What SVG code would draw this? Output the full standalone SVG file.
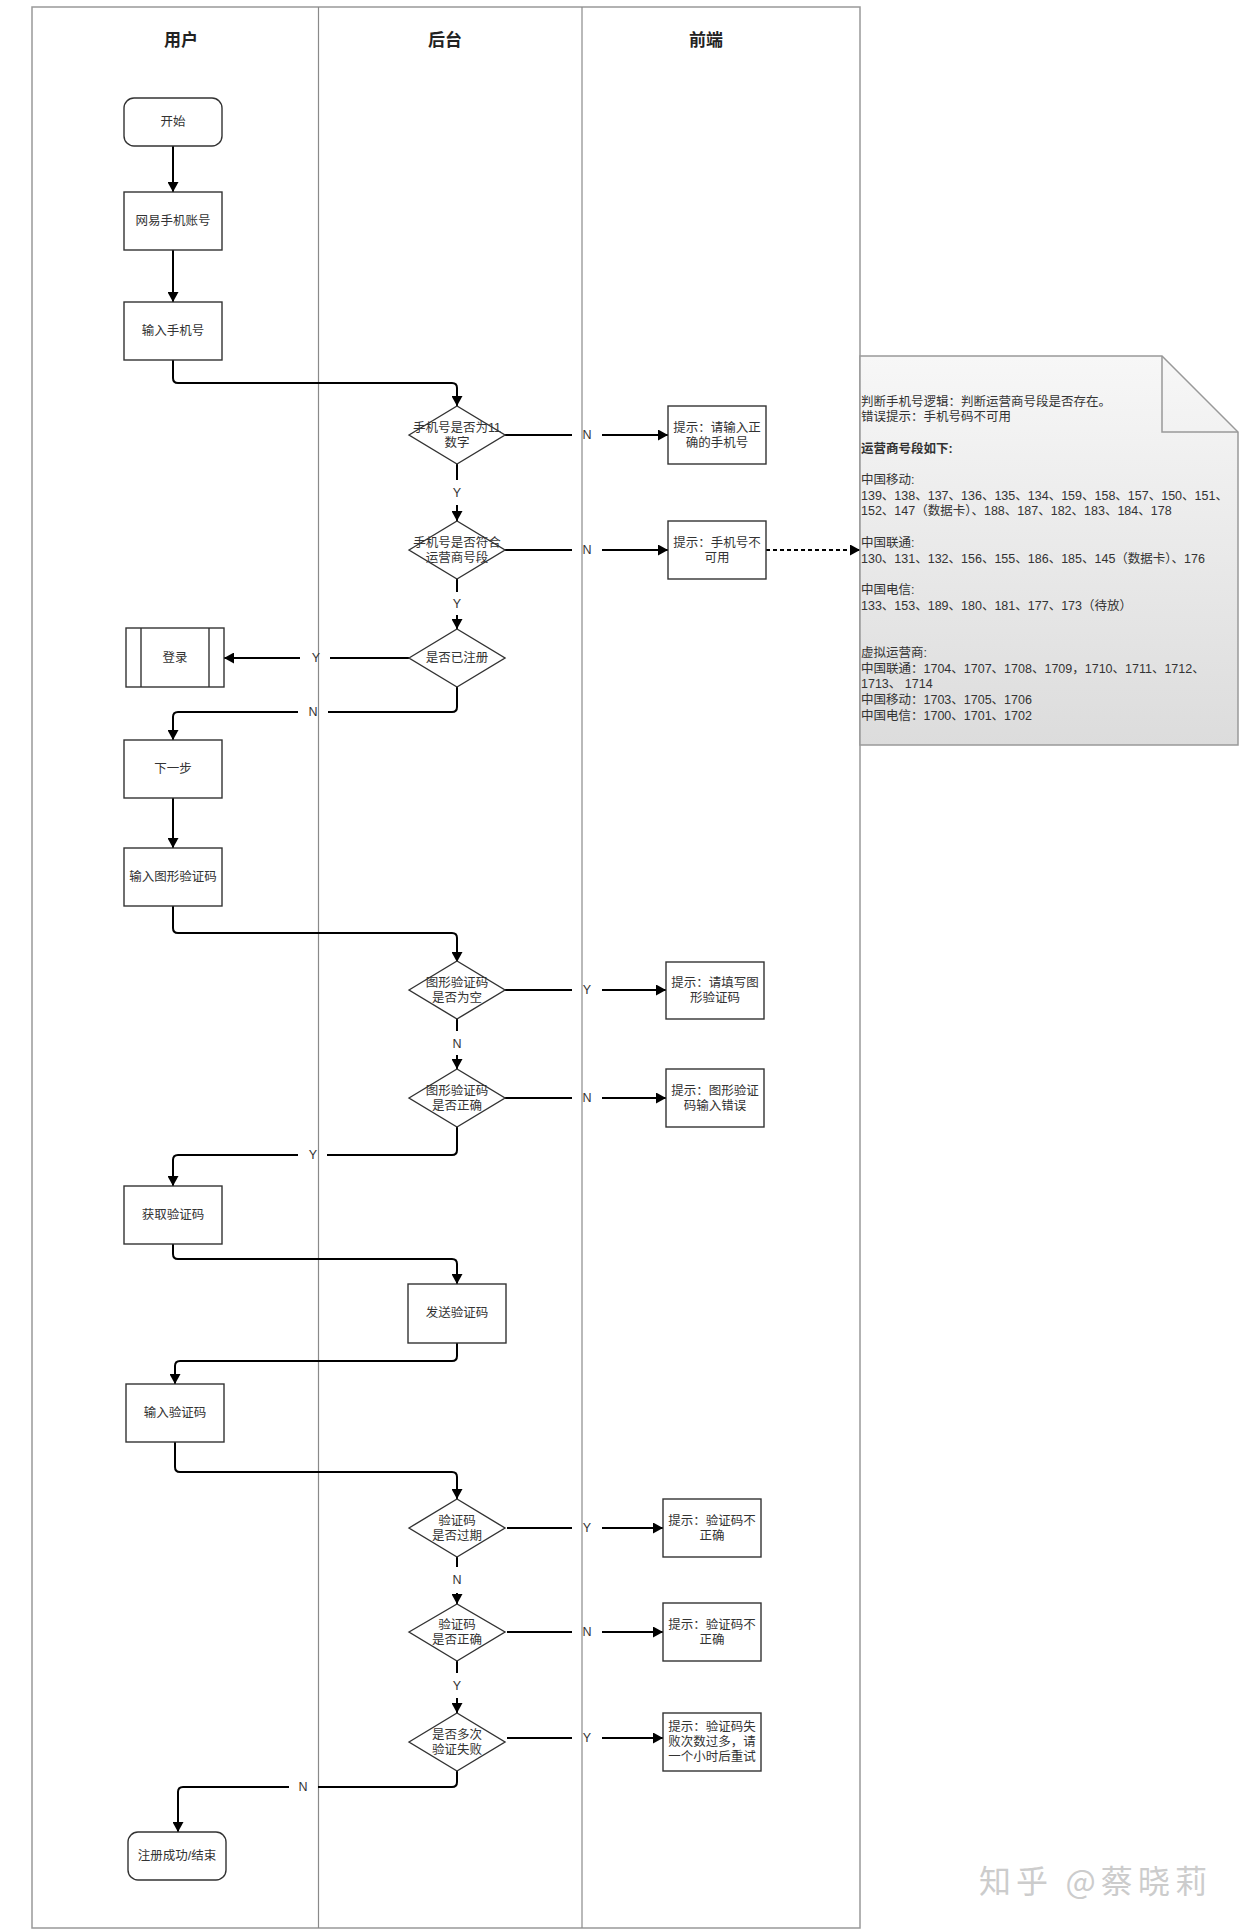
<svg xmlns="http://www.w3.org/2000/svg" width="1240" height="1930" viewBox="0 0 1240 1930">
<defs>
<marker id="arr" markerUnits="userSpaceOnUse" markerWidth="11" markerHeight="11" refX="10" refY="5.5" orient="auto">
<path d="M0,0 L10,5.5 L0,11 z" fill="#000"/>
</marker>
<linearGradient id="noteg" x1="0" y1="0" x2="0" y2="1">
<stop offset="0" stop-color="#f7f7f7"/>
<stop offset="1" stop-color="#dcdcdc"/>
</linearGradient>
<style>
.lane{fill:none;stroke:#999;stroke-width:1.5}
.div{stroke:#8a8a8a;stroke-width:1.2}
.hd{font-family:"Noto Sans CJK SC","Liberation Sans",sans-serif;font-size:17px;font-weight:bold;fill:#222;text-anchor:middle;dominant-baseline:central}
.box{fill:#fff;stroke:#333;stroke-width:1.4}
.t{font-family:"Liberation Sans","Noto Sans CJK SC",sans-serif;font-size:12.5px;fill:#333;text-anchor:middle;dominant-baseline:central}
.c{fill:none;stroke:#000;stroke-width:2}
.ca{fill:none;stroke:#000;stroke-width:2;marker-end:url(#arr)}
.dash{fill:none;stroke:#000;stroke-width:2;stroke-dasharray:4,3;marker-end:url(#arr)}
.lb{font-family:"Liberation Sans",sans-serif;font-size:12.5px;fill:#333;text-anchor:middle;dominant-baseline:central}
.nt{font-family:"Liberation Sans","Noto Sans CJK SC",sans-serif;font-size:12.5px;fill:#333}
</style>
</defs>
<rect x="0" y="0" width="1240" height="1930" fill="#fff"/>
<g id="lanes">
<rect class="lane" x="32" y="7" width="828" height="1921" fill="#fff"/>
<line class="div" x1="318.5" y1="7" x2="318.5" y2="1928"/>
<line class="div" x1="582" y1="7" x2="582" y2="1928"/>
<text class="hd" x="181" y="38">用户</text>
<text class="hd" x="445" y="38">后台</text>
<text class="hd" x="706" y="38">前端</text>
</g>
<g id="connectors">
<path class="ca" d="M173,146 V192"/>
<path class="ca" d="M173,250 V302"/>
<path class="ca" d="M173,360 V378 Q173,383 178,383 H452 Q457,383 457,388 V406"/>
<path class="c" d="M505,435 H572"/><path class="ca" d="M602,435 H668"/><text class="lb" x="587" y="435">N</text>
<path class="c" d="M457,464 V480"/><path class="ca" d="M457,505 V521"/><text class="lb" x="457" y="493">Y</text>
<path class="c" d="M505,550 H572"/><path class="ca" d="M602,550 H668"/><text class="lb" x="587" y="550">N</text>
<path class="dash" d="M766,550 H860"/>
<path class="c" d="M457,579 V592"/><path class="ca" d="M457,615 V629"/><text class="lb" x="457" y="604">Y</text>
<path class="c" d="M409,658 H330"/><path class="ca" d="M300,658 H224"/><text class="lb" x="316" y="658">Y</text>
<path class="c" d="M457,687 V707 Q457,712 452,712 H328"/><path class="ca" d="M298,712 H178 Q173,712 173,717 V740"/><text class="lb" x="313" y="712">N</text>
<path class="ca" d="M173,798 V848"/>
<path class="ca" d="M173,906 V928 Q173,933 178,933 H452 Q457,933 457,938 V962"/>
<path class="c" d="M505,990 H572"/><path class="ca" d="M602,990 H666"/><text class="lb" x="587" y="990">Y</text>
<path class="c" d="M457,1019 V1031"/><path class="ca" d="M457,1055 V1069"/><text class="lb" x="457" y="1044">N</text>
<path class="c" d="M505,1098 H572"/><path class="ca" d="M602,1098 H666"/><text class="lb" x="587" y="1098">N</text>
<path class="c" d="M457,1127 V1150 Q457,1155 452,1155 H327"/><path class="ca" d="M298,1155 H178 Q173,1155 173,1160 V1186"/><text class="lb" x="313" y="1155">Y</text>
<path class="ca" d="M173,1244 V1254 Q173,1259 178,1259 H452 Q457,1259 457,1264 V1284"/>
<path class="ca" d="M457,1343 V1356 Q457,1361 452,1361 H180 Q175,1361 175,1366 V1384"/>
<path class="ca" d="M175,1442 V1467 Q175,1472 180,1472 H452 Q457,1472 457,1477 V1499"/>
<path class="c" d="M507,1528 H572"/><path class="ca" d="M602,1528 H663"/><text class="lb" x="587" y="1528">Y</text>
<path class="c" d="M457,1557 V1567"/><path class="ca" d="M457,1593 V1604"/><text class="lb" x="457" y="1580">N</text>
<path class="c" d="M507,1632 H572"/><path class="ca" d="M602,1632 H663"/><text class="lb" x="587" y="1632">N</text>
<path class="c" d="M457,1661 V1673"/><path class="ca" d="M457,1698 V1713"/><text class="lb" x="457" y="1686">Y</text>
<path class="c" d="M507,1738 H572"/><path class="ca" d="M602,1738 H663"/><text class="lb" x="587" y="1738">Y</text>
<path class="c" d="M457,1771 V1782 Q457,1787 452,1787 H318"/><path class="ca" d="M289,1787 H183 Q178,1787 178,1792 V1832"/><text class="lb" x="303" y="1787">N</text>
</g>
<g id="start"><rect class="box" x="124" y="98" width="98" height="48" rx="10"/><text class="t" x="173" y="122">开始</text></g>
<g id="account"><rect class="box" x="124" y="192" width="98" height="58"/><text class="t" x="173" y="221">网易手机账号</text></g>
<g id="inputPhone"><rect class="box" x="124" y="302" width="98" height="58"/><text class="t" x="173" y="331">输入手机号</text></g>
<g id="d1"><polygon class="box" points="409,435 457,406 505,435 457,464"/><text class="t" x="457" y="428">手机号是否为11</text><text class="t" x="457" y="443">数字</text></g>
<g id="b1"><rect class="box" x="668" y="406" width="98" height="58"/><text class="t" x="717" y="428">提示：请输入正</text><text class="t" x="717" y="443">确的手机号</text></g>
<g id="d2"><polygon class="box" points="409,550 457,521 505,550 457,579"/><text class="t" x="457" y="543">手机号是否符合</text><text class="t" x="457" y="558">运营商号段</text></g>
<g id="b2"><rect class="box" x="668" y="521" width="98" height="58"/><text class="t" x="717" y="543">提示：手机号不</text><text class="t" x="717" y="558">可用</text></g>
<g id="d3"><polygon class="box" points="409,658 457,629 505,658 457,687"/><text class="t" x="457" y="658">是否已注册</text></g>
<g id="login"><rect class="box" x="126" y="628" width="98" height="59"/><line class="box" x1="141" y1="628" x2="141" y2="687"/><line class="box" x1="209" y1="628" x2="209" y2="687"/><text class="t" x="175" y="658">登录</text></g>
<g id="nextStep"><rect class="box" x="124" y="740" width="98" height="58"/><text class="t" x="173" y="769">下一步</text></g>
<g id="inputImg"><rect class="box" x="124" y="848" width="98" height="58"/><text class="t" x="173" y="877">输入图形验证码</text></g>
<g id="d4"><polygon class="box" points="409,990 457,961 505,990 457,1019"/><text class="t" x="457" y="983">图形验证码</text><text class="t" x="457" y="998">是否为空</text></g>
<g id="b4"><rect class="box" x="666" y="962" width="98" height="57"/><text class="t" x="715" y="983">提示：请填写图</text><text class="t" x="715" y="998">形验证码</text></g>
<g id="d5"><polygon class="box" points="409,1098 457,1069 505,1098 457,1127"/><text class="t" x="457" y="1091">图形验证码</text><text class="t" x="457" y="1106">是否正确</text></g>
<g id="b5"><rect class="box" x="666" y="1069" width="98" height="58"/><text class="t" x="715" y="1091">提示：图形验证</text><text class="t" x="715" y="1106">码输入错误</text></g>
<g id="getCode"><rect class="box" x="124" y="1186" width="98" height="58"/><text class="t" x="173" y="1215">获取验证码</text></g>
<g id="sendCode"><rect class="box" x="408" y="1284" width="98" height="59"/><text class="t" x="457" y="1313">发送验证码</text></g>
<g id="inputCode"><rect class="box" x="126" y="1384" width="98" height="58"/><text class="t" x="175" y="1413">输入验证码</text></g>
<g id="d6"><polygon class="box" points="409,1528 457,1499 505,1528 457,1557"/><text class="t" x="457" y="1521">验证码</text><text class="t" x="457" y="1536">是否过期</text></g>
<g id="b6"><rect class="box" x="663" y="1499" width="98" height="58"/><text class="t" x="712" y="1521">提示：验证码不</text><text class="t" x="712" y="1536">正确</text></g>
<g id="d7"><polygon class="box" points="409,1632 457,1604 505,1632 457,1661"/><text class="t" x="457" y="1625">验证码</text><text class="t" x="457" y="1640">是否正确</text></g>
<g id="b7"><rect class="box" x="663" y="1603" width="98" height="58"/><text class="t" x="712" y="1625">提示：验证码不</text><text class="t" x="712" y="1640">正确</text></g>
<g id="d8"><polygon class="box" points="409,1742 457,1713 505,1742 457,1771"/><text class="t" x="457" y="1735">是否多次</text><text class="t" x="457" y="1750">验证失败</text></g>
<g id="b8"><rect class="box" x="663" y="1713" width="98" height="58"/><text class="t" x="712" y="1727">提示：验证码失</text><text class="t" x="712" y="1742">败次数过多，请</text><text class="t" x="712" y="1757">一个小时后重试</text></g>
<g id="end"><rect class="box" x="128" y="1832" width="98" height="48" rx="10"/><text class="t" x="177" y="1856">注册成功/结束</text></g>
<g id="note">
<path d="M860,356 H1162 L1238,432 V745 H860 Z" fill="url(#noteg)" stroke="#999" stroke-width="1.5"/>
<path d="M1162,356 V432 H1238" fill="none" stroke="#999" stroke-width="1.5"/>
<text class="nt" x="861" y="406">判断手机号逻辑：判断运营商号段是否存在。</text>
<text class="nt" x="861" y="421">错误提示：手机号码不可用</text>
<text class="nt" x="861" y="453" font-weight="bold">运营商号段如下:</text>
<text class="nt" x="861" y="484">中国移动:</text>
<text class="nt" x="861" y="500">139、138、137、136、135、134、159、158、157、150、151、</text>
<text class="nt" x="861" y="515">152、147（数据卡）、188、187、182、183、184、178</text>
<text class="nt" x="861" y="547">中国联通:</text>
<text class="nt" x="861" y="563">130、131、132、156、155、186、185、145（数据卡）、176</text>
<text class="nt" x="861" y="594">中国电信:</text>
<text class="nt" x="861" y="610">133、153、189、180、181、177、173（待放）</text>
<text class="nt" x="861" y="657">虚拟运营商:</text>
<text class="nt" x="861" y="673">中国联通：1704、1707、1708、1709，1710、1711、1712、</text>
<text class="nt" x="861" y="688">1713、 1714</text>
<text class="nt" x="861" y="704">中国移动：1703、1705、1706</text>
<text class="nt" x="861" y="720">中国电信：1700、1701、1702</text>
</g>
<text x="979" y="1893" font-family="Noto Sans CJK SC, sans-serif" font-size="32" fill="#cccccc" textLength="228">知乎 @蔡晓莉</text>
</svg>
